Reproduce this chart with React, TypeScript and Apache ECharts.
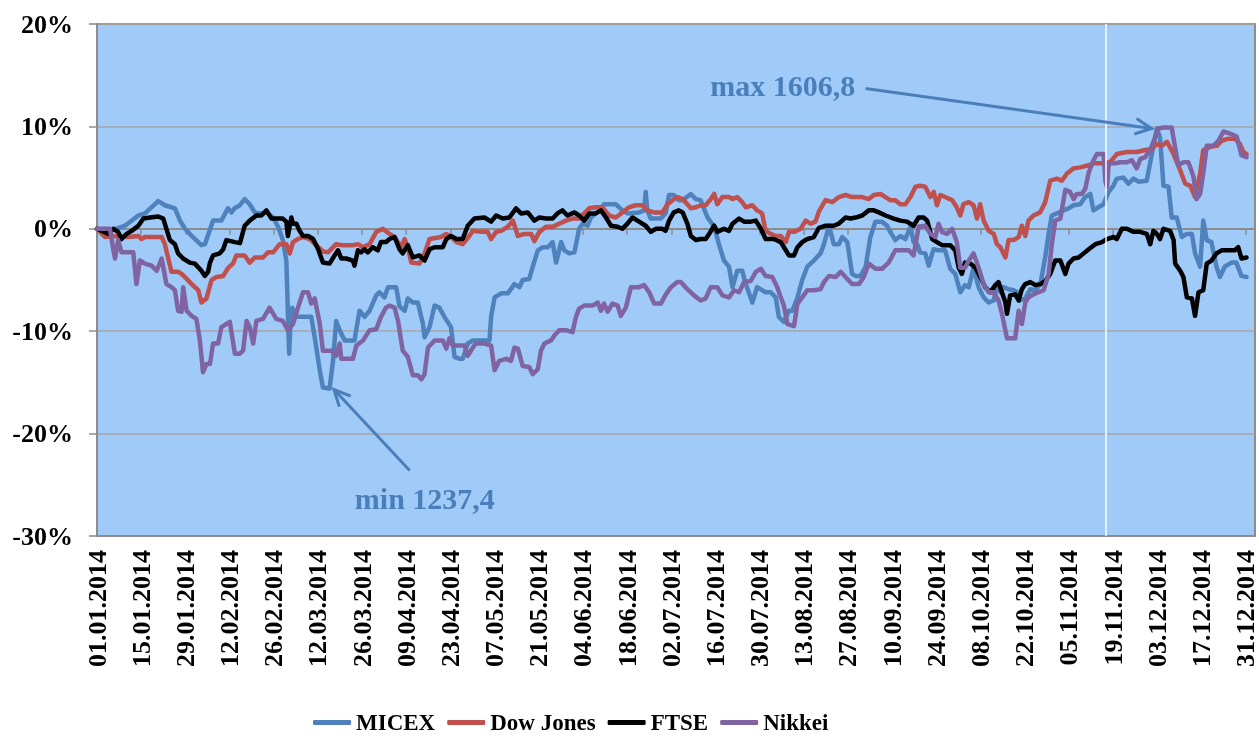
import React, { useEffect, useRef } from 'react';
import * as echarts from 'echarts';

const seriesNames = ['MICEX', 'Dow Jones', 'FTSE', 'Nikkei'];
const seriesColors = ['#4F81BD', '#C0504D', '#000000', '#8064A2'];

const xTickLabels = [
  '01.01.2014', '15.01.2014', '29.01.2014', '12.02.2014', '26.02.2014', '12.03.2014', '26.03.2014',
  '09.04.2014', '23.04.2014', '07.05.2014', '21.05.2014', '04.06.2014', '18.06.2014', '02.07.2014',
  '16.07.2014', '30.07.2014', '13.08.2014', '27.08.2014', '10.09.2014', '24.09.2014', '08.10.2014',
  '22.10.2014', '05.11.2014', '19.11.2014', '03.12.2014', '17.12.2014', '31.12.2014',
];
const yTicks = [-30, -20, -10, 0, 10, 20];

// [day of year (0 = 01.01.2014), % change]
const micex: number[][] = [
  [0,0],[3,-0.2],[6,0],[8.9,0.3],[13.1,1.3],[15.2,1.5],[19.4,2.7],[21.5,2.3],[24.7,2.0],[26.3,0.8],[27.9,0],[30,-0.7],[33.1,-1.6],[34.2,-1.5],[36.8,0.8],[39.4,0.8],[41.5,2.0],[42.6,1.6],[43.6,2.0],[45.3,2.3],[46.8,2.9],[48.4,2.4],[50,1.6],[51.6,1.5],[53.7,1.6],[55.8,1.1],[57.4,0.2],[58.9,-1.1],[60,-3.1],[60.9,-12.2],[61.3,-9.3],[61.9,-7.7],[62.7,-8.6],[66.3,-8.6],[67.9,-8.6],[69,-10.6],[70.6,-13.8],[71.6,-15.5],[73.7,-15.6],[74.8,-12.9],[75.8,-9.0],[76.9,-9.9],[78.5,-10.9],[81.6,-10.9],[83.2,-8.0],[84.8,-8.6],[86.4,-8.0],[88.5,-6.5],[89.5,-6.2],[91.1,-6.7],[92.2,-5.7],[94.8,-5.7],[95.9,-7.6],[97.5,-8.0],[98.5,-6.8],[100.1,-7.2],[101.7,-7.2],[103.3,-9.3],[103.8,-10.6],[105.4,-9.6],[107,-7.5],[108.5,-7.7],[110.1,-8.6],[112.2,-9.6],[113.3,-12.5],[114.9,-12.7],[115.9,-12.7],[117.5,-11.2],[119.1,-10.9],[122.8,-10.9],[124.4,-10.9],[124.9,-8.6],[126,-6.7],[128.1,-6.3],[130.2,-6.3],[132.3,-5.4],[133.9,-5.7],[134.9,-5.0],[137,-4.9],[138.1,-3.7],[139.7,-2.1],[141.3,-1.8],[142.9,-1.8],[144.4,-1.3],[145.5,-3.3],[147.1,-1.3],[148.1,-2.1],[149.7,-2.4],[151.3,-2.3],[152.8,0],[153.9,0.5],[155.5,0.3],[156.5,1.1],[159.2,1.8],[160.7,2.4],[164.4,2.4],[166.5,1.8],[168.1,1.5],[171.8,1.6],[173.4,1.8],[173.9,3.6],[174.4,1.8],[175.5,1.0],[178.6,1.0],[180.2,1.5],[181.3,3.3],[182.8,3.3],[184.4,2.8],[185.6,2.8],[188.2,3.4],[189.8,2.9],[191.3,2.8],[193.5,1.1],[195.6,0.2],[197.1,-1.5],[198.7,-3.1],[200.3,-3.7],[201.4,-5.7],[202.9,-4.1],[204.5,-4.1],[205.6,-5.4],[207.7,-7.2],[209.2,-5.7],[211.9,-6.2],[213.5,-6.2],[215.1,-6.7],[216.1,-8.6],[217.7,-9.1],[219.3,-8.0],[220.4,-8.0],[222,-6.7],[223.5,-5.0],[225.1,-3.7],[227.2,-3.1],[229.3,-2.4],[230.4,-1.5],[232,0.3],[233.5,-1.5],[235.1,-1.5],[236.2,-0.8],[237.8,-1.3],[239.3,-4.4],[240.4,-4.6],[242,-4.6],[243.6,-3.7],[245.1,-0.8],[246.7,0.7],[248.8,0.7],[250.4,0.3],[251.4,-0.3],[253,-1.1],[254.6,-0.7],[256.2,-1.0],[257.8,0.2],[258.8,-1.3],[259.9,-1.5],[260.9,-2.3],[262.5,-2.4],[263.6,-3.6],[265.1,-2.0],[266.7,-2.1],[268.8,-2.1],[270.4,-3.9],[272,-4.4],[273.6,-6.2],[275.1,-5.5],[276.3,-5.7],[277.8,-3.8],[279.4,-5.7],[281,-6.7],[282.6,-7.2],[284.2,-7.0],[285.2,-5.5],[286.3,-6.2],[287.3,-5.7],[288.9,-5.9],[290.5,-6.0],[291.6,-6.2],[292.6,-7.0],[294.2,-6.8],[295.8,-5.9],[297.4,-6.0],[299,-5.4],[300.5,-2.8],[301.6,-0.5],[302.6,1.3],[304.2,1.5],[306.3,1.8],[307.9,2.0],[309.5,2.3],[311.6,2.4],[313.2,3.1],[314.8,3.4],[315.8,1.8],[317.4,2.1],[319,2.4],[320.6,3.6],[322.1,4.2],[323.2,4.9],[325.3,5.0],[326.9,4.4],[328.5,4.9],[330.1,4.6],[332.7,4.7],[334.3,7.3],[335.9,9.8],[336.9,8.9],[338,4.2],[339.6,4.1],[340.6,1.1],[342.2,1.1],[343.8,-0.8],[345.4,-0.5],[347,-0.5],[348,-2.4],[349.6,-3.7],[350.6,0.8],[351.7,-1.1],[353.2,-1.3],[354.8,-3.7],[355.9,-4.7],[357.4,-3.7],[359.5,-3.3],[361.1,-3.3],[362.7,-4.6],[364.3,-4.7],
];

const dowJones: number[][] = [
  [0,0],[2.5,-0.8],[5.7,-0.7],[9.9,-0.8],[13.1,-0.7],[14.1,-1.0],[15.2,-0.8],[20.5,-0.8],[21.5,-1.5],[23.6,-4.2],[25.7,-4.2],[26.8,-4.4],[27.8,-4.7],[30,-5.4],[32.1,-6.0],[33.1,-7.2],[34.7,-6.8],[36.3,-5.0],[37.9,-4.7],[40,-4.6],[41.6,-3.8],[43.1,-3.4],[44.2,-2.6],[46.8,-2.6],[48.4,-3.3],[50,-2.8],[52.6,-2.8],[54.2,-2.3],[55.8,-2.3],[57.9,-1.5],[60,-1.5],[61.1,-2.4],[62.1,-1.3],[63.7,-1.0],[65.3,-0.8],[67.4,-1.0],[69.5,-1.6],[71.6,-2.2],[73.2,-2.3],[75.8,-1.5],[77.9,-1.6],[81.1,-1.6],[82.7,-1.5],[84.3,-1.8],[86.4,-1.5],[88.5,-0.3],[90.6,0],[92.7,-0.5],[94.3,-0.8],[96.4,-1.8],[97.5,-1.0],[98.5,-1.8],[99.6,-3.3],[102.2,-3.4],[103.8,-2.4],[105.4,-1.0],[109,-0.8],[110.7,-0.5],[112.2,-0.8],[113.9,-1.3],[115.9,-1.5],[118,-0.7],[119.1,-0.2],[121.7,-0.3],[123.8,-0.3],[124.9,-1.0],[126.5,-0.3],[128.1,-0.2],[130.2,0.2],[131.8,0.8],[133.4,-0.7],[135.4,-0.5],[137.6,-0.5],[138.6,-1.2],[140.2,-0.3],[142.3,0.2],[144.4,0.2],[146.5,0.5],[148.6,0.8],[150.7,1.0],[152.8,1.0],[154.4,1.5],[156,2.0],[158.1,2.1],[160.2,2.1],[162.3,1.3],[164.4,1.1],[166.5,1.6],[168.6,2.1],[170.7,2.3],[172.8,2.3],[174.4,1.8],[176.6,1.6],[179.2,1.6],[180.8,2.4],[182.4,2.8],[183.9,3.1],[185.6,2.9],[187.1,2.4],[188.2,2.0],[189.8,2.1],[191.3,2.3],[192.9,2.3],[194.5,2.9],[195.6,3.4],[196.6,2.4],[198.2,3.1],[200.3,3.1],[201.4,2.9],[202.9,3.1],[204.5,2.6],[205.6,2.1],[207.7,2.3],[209.2,1.8],[210.8,1.5],[211.9,-0.2],[213.5,-0.5],[215.1,-0.7],[216.7,-0.7],[218.3,-1.3],[219.3,-0.3],[220.9,-0.3],[223,0],[224.6,0.8],[226.2,0.5],[227.7,0.7],[228.8,1.7],[230.9,2.8],[233,2.6],[235.1,3.1],[237.2,3.3],[239.3,3.1],[242.5,3.1],[244.6,2.9],[246.2,3.3],[248.3,3.4],[249.9,3.1],[251.4,2.8],[253,2.8],[254.6,2.4],[256.2,2.4],[257.8,3.1],[259.4,4.1],[260.9,4.2],[262.5,4.1],[264.1,3.1],[265.2,3.6],[266.2,2.3],[267.3,3.3],[268.8,3.1],[271,2.8],[272.5,2.1],[273.6,1.3],[274.6,2.4],[276.3,2.6],[277.8,2.3],[278.9,1.0],[279.9,2.4],[281,0.8],[282.6,-0.2],[284.2,-0.5],[285.2,-1.5],[286.3,-1.8],[287.9,-2.8],[288.9,-1.1],[290.5,-1.1],[292.1,-0.8],[293.1,0.3],[294.2,-0.7],[295.2,0.8],[296.8,1.3],[298.9,1.6],[300.5,2.6],[302.1,4.7],[304.2,4.9],[305.8,4.7],[307.4,5.4],[309.5,5.9],[311.6,6.0],[314.3,6.2],[315.8,6.4],[317.9,6.4],[319,6.4],[321.1,6.5],[323.2,7.3],[326.4,7.5],[329.5,7.5],[332.2,7.7],[334.3,7.8],[335.9,8.3],[337.5,8.1],[339.1,8.5],[341.2,7.3],[343.3,5.7],[344.9,4.4],[346.5,4.2],[348,3.1],[349.6,5.4],[350.6,7.7],[352.8,8.0],[354.9,8.1],[356.4,8.6],[358.6,8.8],[360.7,8.8],[362.2,8.3],[363.3,7.5],[364.3,7.3],
];

const ftse: number[][] = [
  [0,0],[3.6,-0.5],[5.2,0],[6.7,-0.3],[7.8,-1.0],[9.4,-0.5],[11,-0.2],[13.1,0.3],[14.7,1.0],[16.8,1.1],[19.4,1.2],[21,1.0],[22,0],[23.1,-1.1],[24.7,-1.5],[25.7,-2.4],[27.3,-2.9],[29.4,-3.3],[31,-3.4],[33.1,-4.1],[34.2,-4.6],[35.2,-4.2],[35.8,-3.3],[36.8,-2.6],[38.9,-2.4],[40,-2.0],[41,-1.1],[43.7,-1.3],[45.3,-1.4],[46.8,0.3],[48.4,0.8],[50.5,1.3],[52.1,1.3],[53.7,1.8],[55.3,1.0],[56.8,1.0],[58.9,1.0],[60,0.7],[60.5,-0.7],[61.6,1.1],[62.1,0.5],[63.2,0.5],[64.2,-0.2],[65.3,-0.7],[66.9,-0.7],[68.5,-1.0],[70.1,-2.0],[71.6,-3.3],[73.7,-3.4],[75.3,-2.6],[76.4,-2.1],[77.4,-2.9],[79,-2.9],[81.1,-3.1],[81.6,-3.6],[82.7,-2.1],[83.7,-2.3],[84.8,-2.0],[85.8,-2.3],[87.4,-1.8],[89,-2.1],[90,-1.3],[91.6,-1.3],[92.7,-1.0],[94.3,-0.8],[95.9,-2.0],[96.9,-2.4],[98.5,-1.6],[100.1,-2.8],[102.2,-2.6],[103.8,-3.1],[105.4,-2.0],[107,-1.8],[109.6,-1.8],[110.7,-1.0],[112.2,-0.7],[113.9,-1.0],[115.9,-1.0],[117.5,0.3],[119.6,1.0],[122.8,1.1],[124.9,0.7],[126.5,1.3],[128.6,1.0],[130.7,1.1],[132.8,2.0],[134.4,1.5],[136.5,1.6],[138.6,0.8],[140.2,1.1],[142.3,1.0],[144.4,1.0],[145.9,1.5],[147.5,1.8],[149.1,1.3],[151.3,1.6],[152.8,1.3],[154.4,0.8],[156,1.5],[158.1,1.5],[159.7,1.8],[161.3,1.1],[162.9,0.3],[165,0.2],[166.5,0],[168.1,0.5],[169.7,1.1],[171.8,0.7],[173.9,0.3],[175.5,-0.3],[177.1,0],[179.2,0],[180.2,-0.2],[181.3,0.8],[182.8,1.6],[184.4,1.8],[185.6,1.6],[187.1,0.5],[188.2,-0.7],[189.8,-1.1],[191.3,-1.0],[192.9,-1.0],[194,-0.5],[195.6,0.3],[196.6,-0.3],[198.7,0],[200.3,-0.2],[201.4,0.5],[203.5,1.0],[205.1,0.7],[207.2,0.7],[208.8,0.8],[210.4,0],[211.9,-1.0],[214.5,-1.0],[216.7,-1.3],[218.3,-2.1],[219.3,-2.6],[220.9,-2.6],[222,-1.8],[223.5,-1.3],[225.1,-1.0],[227.2,-0.8],[228.8,0.1],[230.9,0.3],[233.5,0.3],[235.1,0.5],[237.2,1.1],[238.8,1.0],[240.4,1.1],[242.5,1.3],[244.6,1.8],[246.2,1.8],[247.8,1.6],[249.9,1.3],[252.5,1.0],[254.6,0.8],[256.7,0.7],[258.8,0.3],[260.4,1.1],[262,1.1],[263.1,0.8],[264.7,-1.0],[266.2,-1.3],[267.8,-1.6],[270.4,-1.6],[272,-2.1],[273.1,-3.8],[274.1,-4.4],[275.1,-3.3],[276.8,-3.4],[278.4,-3.8],[279.9,-4.7],[281.5,-5.7],[283.1,-6.2],[284.7,-5.5],[285.7,-5.2],[286.8,-6.2],[287.9,-7.2],[288.4,-8.3],[289.4,-6.5],[291,-6.4],[292.1,-7.0],[293.1,-5.9],[294.2,-5.4],[295.8,-5.2],[297.4,-5.5],[299,-5.4],[300.5,-5.1],[302.1,-4.4],[303.7,-3.1],[305.3,-3.1],[306.9,-4.4],[307.9,-3.4],[309.5,-2.9],[311.1,-2.8],[312.7,-2.4],[314.3,-2.0],[316.4,-1.5],[318.5,-1.3],[320.1,-1.0],[322.2,-0.8],[323.2,-1.0],[324.8,0],[326.4,0],[328.5,-0.3],[330.6,-0.3],[332.7,-0.5],[333.8,-1.5],[334.8,-0.2],[335.9,-0.5],[336.9,-1.0],[338,0],[340.1,-0.2],[341.2,-1.1],[341.7,-3.4],[343.3,-4.1],[344.3,-4.7],[345.4,-6.7],[347,-6.8],[348,-8.5],[349.1,-6.2],[350.6,-6.0],[351.7,-3.4],[353.2,-3.1],[354.8,-2.4],[356.4,-2.1],[358.5,-2.1],[360.6,-2.1],[361.7,-1.8],[362.7,-2.9],[364.3,-2.8],
];

const nikkei: number[][] = [
  [0,0],[4.1,0],[5.2,-2.1],[5.7,-2.9],[6.7,-1.1],[7.8,-2.3],[9.9,-2.3],[11.5,-2.3],[12.5,-5.4],[13.6,-3.1],[15.2,-3.4],[17.3,-3.6],[18.9,-4.1],[20.5,-2.9],[22,-5.4],[23.6,-5.7],[24.7,-6.0],[25.7,-8.0],[26.8,-8.1],[27.3,-5.7],[28.4,-8.0],[30,-8.5],[31.5,-8.8],[32.6,-10.9],[33.6,-14.0],[34.7,-13.2],[35.8,-13.2],[36.8,-11.2],[38.4,-11.2],[39.4,-9.6],[41,-9.3],[42.1,-9.1],[43.7,-12.2],[45.2,-12.2],[46.3,-11.9],[47.4,-9.0],[48.4,-9.6],[49.5,-11.2],[50.5,-9.0],[52.6,-8.8],[54.7,-7.7],[56.8,-8.8],[58.9,-9.0],[60.5,-9.9],[62.1,-9.3],[63.7,-7.7],[65.3,-6.2],[66.9,-6.2],[67.9,-7.3],[69,-6.8],[70.6,-9.3],[71.6,-11.9],[74.3,-11.9],[75.8,-12.4],[76.9,-11.2],[77.4,-12.7],[81.1,-12.7],[82.2,-11.4],[84.3,-10.9],[86.4,-9.9],[88.5,-9.8],[90,-8.6],[91.6,-7.7],[92.7,-7.5],[94.3,-7.7],[95.4,-9.0],[96.9,-11.9],[98.5,-12.5],[100.1,-14.3],[101.7,-14.3],[102.8,-14.7],[103.8,-14.2],[104.9,-11.6],[107,-10.9],[109.6,-10.9],[110.7,-11.7],[111.7,-10.7],[112.8,-11.4],[114.3,-11.4],[116.5,-11.4],[117.5,-12.4],[119.1,-11.6],[120.1,-11.2],[122.8,-11.2],[124.9,-11.4],[126,-13.8],[127.5,-12.9],[129.7,-12.7],[131.2,-12.9],[132.3,-11.6],[133.4,-11.7],[134.9,-13.4],[137,-13.5],[138.1,-14.2],[139.7,-13.7],[140.7,-11.9],[141.8,-11.2],[143.9,-10.9],[145,-10.4],[146.5,-9.9],[148.6,-9.9],[150.7,-10.1],[151.8,-8.6],[152.8,-7.8],[154.4,-7.5],[157.1,-7.5],[158.7,-7.2],[159.7,-8.0],[160.7,-7.3],[161.8,-8.1],[163.4,-7.3],[165,-7.5],[166,-8.5],[167.6,-7.7],[169.2,-5.7],[171.8,-5.7],[173.4,-5.5],[175,-6.2],[176.6,-7.3],[178.7,-7.3],[180.3,-6.4],[181.9,-5.7],[183.9,-5.2],[185,-5.2],[187.1,-5.9],[189.2,-6.5],[191.3,-7.0],[192.9,-6.8],[194.5,-5.7],[196.6,-5.7],[198.2,-6.5],[200.3,-6.7],[201.9,-6.0],[203.5,-6.2],[205.1,-5.2],[207.2,-5.1],[208.8,-4.2],[210.4,-3.9],[211.9,-4.6],[214,-4.7],[215.6,-5.7],[216.7,-6.7],[217.7,-7.5],[218.8,-9.3],[220.9,-9.5],[222,-7.3],[223.5,-6.7],[225.1,-6.0],[227.2,-6.0],[229.3,-5.9],[230.4,-5.2],[232,-4.6],[234.1,-4.7],[235.7,-4.2],[237.2,-4.7],[239.3,-5.4],[241.5,-5.4],[243,-4.7],[244.6,-3.4],[246.7,-3.9],[248.8,-3.9],[250.9,-3.3],[253,-2.1],[255.1,-2.1],[257.3,-2.1],[258.8,-2.6],[260.4,0.2],[262.5,0.3],[264.1,-0.5],[265.7,-0.8],[266.7,0.5],[267.8,-0.3],[269.4,-0.5],[271,0],[272.5,-1.3],[273.6,-3.8],[275.1,-3.8],[276.3,-3.1],[277.8,-2.4],[279.4,-3.8],[281,-5.4],[282.6,-6.2],[284.2,-6.2],[285.7,-7.0],[286.8,-8.3],[288.4,-10.7],[291,-10.7],[292.1,-8.0],[293.1,-9.3],[294.2,-7.2],[295.2,-6.7],[296.8,-6.4],[298.4,-6.2],[300,-6.0],[301.6,-4.4],[302.6,-1.5],[303.7,0.8],[305.3,1.0],[306.9,3.8],[308.4,3.6],[309.5,2.9],[310.5,3.4],[312.1,3.4],[313.2,3.9],[314.3,5.5],[315.8,6.7],[316.9,7.3],[319,7.3],[319.6,4.6],[320.1,4.1],[320.6,6.2],[321.1,6.4],[322.7,6.4],[324.3,6.5],[326.4,6.5],[328,6.7],[329.5,5.9],[330.6,6.8],[332.2,7.0],[333.8,7.7],[334.8,8.5],[336.4,9.8],[338,9.9],[340.6,9.9],[341.7,7.9],[342.7,6.2],[344.3,6.5],[345.9,6.5],[347.5,5.1],[348.5,2.9],[349.6,3.4],[350.6,5.4],[351.7,8.1],[353.8,8.1],[355.4,8.6],[357,9.5],[359.1,9.3],[361.2,9.0],[362.7,7.2],[364.3,7.0],
];

const seriesData = [micex, dowJones, ftse, nikkei];

// annotations, in data coordinates [day, %]
const maxLabel = 'max 1606,8';
const maxLabelAt = [217.3, 14.0];
const maxArrowFrom = [243.6, 13.7];
const maxArrowTo = [334.2, 9.8];
const minLabel = 'min 1237,4';
const minLabelAt = [103.9, -26.3];
const minArrowFrom = [99.1, -23.6];
const minArrowTo = [75.1, -15.7];
const whiteLineDay = 319.6;

const FONT = "'Liberation Serif', 'Times New Roman', serif";
const AXIS_GRAY = '#8C8C8C';
const ANNOT = '#4A7EBB';

export default function App() {
  const ref = useRef<HTMLDivElement>(null);
  useEffect(() => {
    const chart = echarts.init(ref.current!, null, { renderer: 'svg' });
    const xMax = 367;
    const xLabel = (v: number) => {
      const i = Math.round(v / 14);
      return Math.abs(v - i * 14) < 1e-6 && i < xTickLabels.length ? xTickLabels[i] : '';
    };
    const option: any = {
      animation: false,
      grid: {
        left: 97, right: 4, top: 24, bottom: 204,
        show: true, backgroundColor: '#A0CBF9', borderColor: AXIS_GRAY, borderWidth: 2,
      },
      legend: {
        left: 308, bottom: 1,
        itemWidth: 38, itemHeight: 5, itemGap: 12, icon: 'roundRect',
        textStyle: { fontSize: 23, fontWeight: 'bold', fontFamily: FONT, color: '#000' },
        data: seriesNames,
      },
      xAxis: [
        {
          type: 'value', min: 0, max: xMax, interval: 14, position: 'bottom',
          axisLine: { show: true, onZero: false, lineStyle: { color: AXIS_GRAY, width: 2 } },
          axisTick: { show: false },
          splitLine: { show: false },
          axisLabel: {
            rotate: 90, margin: 14, fontSize: 26, fontWeight: 'bold', fontFamily: FONT, color: '#000',
            formatter: xLabel, showMaxLabel: false,
          },
        },
        {
          type: 'value', min: 0, max: xMax, interval: 14, position: 'bottom',
          axisLine: { show: true, onZero: true, lineStyle: { color: AXIS_GRAY, width: 2 } },
          axisTick: { show: true, length: 6, lineStyle: { color: AXIS_GRAY, width: 1.5 } },
          splitLine: { show: false },
          axisLabel: { show: false },
        },
      ],
      yAxis: {
        type: 'value', min: yTicks[0], max: yTicks[yTicks.length - 1], interval: 10,
        axisLine: { show: true, lineStyle: { color: AXIS_GRAY, width: 2 } },
        axisTick: { show: true, length: 8, lineStyle: { color: AXIS_GRAY, width: 1.5 } },
        splitLine: { show: true, lineStyle: { color: '#A6A6A6', width: 1.5 } },
        axisLabel: {
          margin: 24, fontSize: 26, fontWeight: 'bold', fontFamily: FONT, color: '#000',
          formatter: (v: number) => `${v}%`,
        },
      },
      series: seriesNames.map((name, i) => ({
        name, type: 'line', xAxisIndex: 0, yAxisIndex: 0,
        data: seriesData[i],
        symbol: 'none', showSymbol: false,
        lineStyle: { color: seriesColors[i], width: 4.5, join: 'round', cap: 'round' },
        itemStyle: { color: seriesColors[i] },
        markLine: i === 0 ? {
          silent: true, symbol: 'none', animation: false,
          label: { show: false },
          lineStyle: { color: '#FFFFFF', width: 1.5, type: 'solid' },
          data: [{ xAxis: whiteLineDay }],
        } : undefined,
      })),
    };
    chart.setOption(option);

    const toPx = (p: number[]) => chart.convertToPixel({ seriesIndex: 0 }, p) as number[];
    const arrow = (from: number[], to: number[]) => {
      const [x1, y1] = toPx(from);
      const [x2, y2] = toPx(to);
      const ang = Math.atan2(y2 - y1, x2 - x1);
      const L = 18, a = 0.45;
      const p1 = [x2 - L * Math.cos(ang - a), y2 - L * Math.sin(ang - a)];
      const p2 = [x2 - L * Math.cos(ang + a), y2 - L * Math.sin(ang + a)];
      return [
        { type: 'line', shape: { x1, y1, x2, y2 }, style: { stroke: ANNOT, lineWidth: 3 }, z: 100 },
        { type: 'polyline', shape: { points: [p1, [x2, y2], p2] }, style: { stroke: ANNOT, lineWidth: 3, fill: null }, z: 100 },
      ];
    };
    const label = (text: string, at: number[]) => {
      const [x, y] = toPx(at);
      return {
        type: 'text', x, y, z: 100,
        style: {
          text, fill: ANNOT, fontSize: 30, fontWeight: 'bold', fontFamily: FONT,
          align: 'center', verticalAlign: 'middle',
        },
      };
    };
    chart.setOption({
      graphic: [
        ...arrow(maxArrowFrom, maxArrowTo),
        ...arrow(minArrowFrom, minArrowTo),
        label(maxLabel, maxLabelAt),
        label(minLabel, minLabelAt),
      ],
    });

    return () => chart.dispose();
  }, []);
  return <div ref={ref} style={{ position: 'fixed', left: 0, top: 0, width: 1259, height: 740 }} />;
}
